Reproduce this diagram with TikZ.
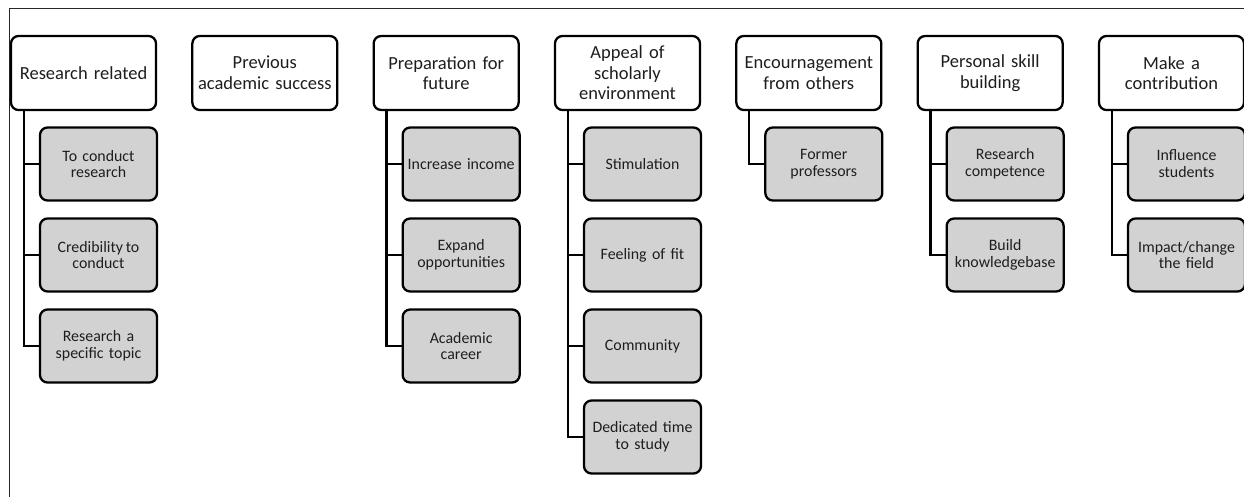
\documentclass[tikz,border=0pt]{standalone}
\usepackage{fontspec}
\setmainfont{Carlito}
\usetikzlibrary{calc}
\definecolor{boxfill}{HTML}{D2D2D2}
\definecolor{ink}{HTML}{1E1E1E}
\tikzset{
  topbox/.style={draw=black, line width=2.3pt, rounded corners=7.5pt, fill=white,
    minimum width=145pt, minimum height=74pt, text width=140pt, align=center,
    inner sep=0pt, text=ink, font=\fontsize{18.5}{20.6}\selectfont},
  subbox/.style={draw=black, line width=2.3pt, rounded corners=7.5pt, fill=boxfill,
    minimum width=117pt, minimum height=73pt, text width=114pt, align=center,
    inner sep=0pt, text=ink, font=\fontsize{15.9}{16.9}\selectfont},
  link/.style={draw=black, line width=2.3pt},
  frame/.style={draw=black!85, line width=1pt}
}
\begin{document}
\begin{tikzpicture}[x=1pt,y=-1pt]
\useasboundingbox (0,0) rectangle (1244,497);
\coordinate (fa) at (9.5,497);
\coordinate (fb) at (9.5,8.5);
\coordinate (fc) at (1244,8.5);
\draw[frame] (fa) -- (fb) -- (fc);
% top-level nodes
\foreach \i/\name/\txt in {0/t1/{Research related},1/t2/{Previous\\academic success},2/t3/{Preparation for\\future},3/t4/{Appeal of\\scholarly\\environment},4/t5/{Encournagement\\from others},5/t6/{Personal skill\\building},6/t7/{Make a\\contribution}}{
  \node[topbox] (\name) at ({11+181.33*\i+72.5},73) {\txt};
}
% children
\foreach \i/\k/\name/\txt in {0/0/c11/{To conduct\\research},0/1/c12/{Credibility\,to\\conduct},0/2/c13/{Research a\\specific topic},
 2/0/c31/{Increase income},2/1/c32/{Expand\\opportunities},2/2/c33/{Academic\\career},
 3/0/c41/{Stimulation},3/1/c42/{Feeling of fit},3/2/c43/{Community},3/3/c44/{Dedicated time\\to study},
 4/0/c51/{Former\\professors},
 5/0/c61/{Research\\competence},5/1/c62/{Build\\knowledgebase},
 6/0/c71/{Influence\\students},6/1/c72/{Impact/change\\the field}}{
  \node[subbox] (\name) at ({11+181.33*\i+87.5},{164+91*\k}) {\txt};
}
% connectors
\foreach \p/\c in {t1/c11,t1/c12,t1/c13,t3/c31,t3/c32,t3/c33,t4/c41,t4/c42,t4/c43,t4/c44,t5/c51,t6/c61,t6/c62,t7/c71,t7/c72}{
  \draw[link] ([xshift=14pt]\p.south west) |- (\c.west);
}
\end{tikzpicture}
\end{document}
